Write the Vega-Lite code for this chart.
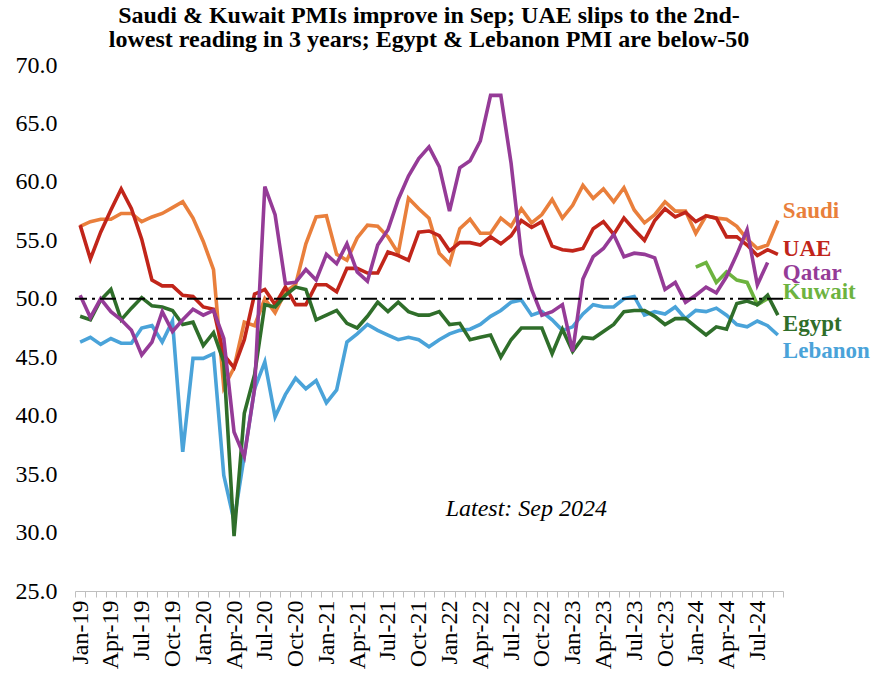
{
  "$schema": "https://vega.github.io/schema/vega-lite/v6.json",
  "width": 708,
  "height": 526,
  "autosize": {"type": "none"},
  "padding": {"left": 75, "top": 65, "right": 92, "bottom": 87},
  "background": "white",
  "title": {
    "text": ["Saudi & Kuwait PMIs improve in Sep; UAE slips to the 2nd-", "lowest reading in 3 years; Egypt & Lebanon PMI are below-50"],
    "font": "Liberation Serif",
    "fontSize": 24,
    "fontWeight": "bold",
    "color": "black",
    "anchor": "middle",
    "lineHeight": 24,
    "offset": 1
  },
  "config": {
    "view": {"stroke": null},
    "axis": {"labelFont": "Liberation Serif", "labelColor": "black", "grid": false}
  },
  "datasets": {
    "pmi": [
      {"m": "Jan-19", "Saudi": 56.2, "UAE": 56.3, "Qatar": 50.3, "Egypt": 48.5, "Lebanon": 46.3},
      {"m": "Feb-19", "Saudi": 56.6, "UAE": 53.4, "Qatar": 48.4, "Egypt": 48.2, "Lebanon": 46.7},
      {"m": "Mar-19", "Saudi": 56.8, "UAE": 55.7, "Qatar": 50.0, "Egypt": 49.9, "Lebanon": 46.1},
      {"m": "Apr-19", "Saudi": 56.8, "UAE": 57.6, "Qatar": 48.9, "Egypt": 50.8, "Lebanon": 46.6},
      {"m": "May-19", "Saudi": 57.3, "UAE": 59.4, "Qatar": 48.2, "Egypt": 48.2, "Lebanon": 46.2},
      {"m": "Jun-19", "Saudi": 57.3, "UAE": 57.7, "Qatar": 47.3, "Egypt": 49.2, "Lebanon": 46.2},
      {"m": "Jul-19", "Saudi": 56.6, "UAE": 55.1, "Qatar": 45.2, "Egypt": 50.1, "Lebanon": 47.5},
      {"m": "Aug-19", "Saudi": 57.0, "UAE": 51.6, "Qatar": 46.3, "Egypt": 49.4, "Lebanon": 47.7},
      {"m": "Sep-19", "Saudi": 57.3, "UAE": 51.1, "Qatar": 48.9, "Egypt": 49.3, "Lebanon": 46.3},
      {"m": "Oct-19", "Saudi": 57.8, "UAE": 51.1, "Qatar": 47.2, "Egypt": 49.0, "Lebanon": 48.1},
      {"m": "Nov-19", "Saudi": 58.3, "UAE": 50.3, "Qatar": 48.2, "Egypt": 47.8, "Lebanon": 36.9},
      {"m": "Dec-19", "Saudi": 56.9, "UAE": 50.2, "Qatar": 49.1, "Egypt": 48.0, "Lebanon": 44.9},
      {"m": "Jan-20", "Saudi": 54.9, "UAE": 49.3, "Qatar": 48.6, "Egypt": 46.0, "Lebanon": 44.9},
      {"m": "Feb-20", "Saudi": 52.5, "UAE": 49.1, "Qatar": 49.0, "Egypt": 47.1, "Lebanon": 45.3},
      {"m": "Mar-20", "Saudi": 42.4, "UAE": 45.2, "Qatar": 46.6, "Egypt": 44.6, "Lebanon": 34.9},
      {"m": "Apr-20", "Saudi": 44.1, "UAE": 44.1, "Qatar": 38.6, "Egypt": 29.7, "Lebanon": 31.0},
      {"m": "May-20", "Saudi": 48.0, "UAE": 46.5, "Qatar": 36.5, "Egypt": 40.2, "Lebanon": 36.6},
      {"m": "Jun-20", "Saudi": 47.7, "UAE": 50.4, "Qatar": 42.3, "Egypt": 43.5, "Lebanon": 42.3},
      {"m": "Jul-20", "Saudi": 50.0, "UAE": 50.8, "Qatar": 59.6, "Egypt": 49.5, "Lebanon": 44.6},
      {"m": "Aug-20", "Saudi": 48.8, "UAE": 49.5, "Qatar": 57.2, "Egypt": 49.3, "Lebanon": 39.9},
      {"m": "Sep-20", "Saudi": 50.6, "UAE": 51.0, "Qatar": 51.3, "Egypt": 50.3, "Lebanon": 41.8},
      {"m": "Oct-20", "Saudi": 51.2, "UAE": 49.5, "Qatar": 51.4, "Egypt": 51.0, "Lebanon": 43.2},
      {"m": "Nov-20", "Saudi": 54.7, "UAE": 49.5, "Qatar": 52.5, "Egypt": 50.8, "Lebanon": 42.3},
      {"m": "Dec-20", "Saudi": 57.0, "UAE": 51.2, "Qatar": 51.6, "Egypt": 48.2, "Lebanon": 43.0},
      {"m": "Jan-21", "Saudi": 57.1, "UAE": 51.2, "Qatar": 53.8, "Egypt": 48.6, "Lebanon": 41.1},
      {"m": "Feb-21", "Saudi": 53.8, "UAE": 50.6, "Qatar": 53.0, "Egypt": 49.0, "Lebanon": 42.2},
      {"m": "Mar-21", "Saudi": 53.3, "UAE": 52.6, "Qatar": 54.7, "Egypt": 47.9, "Lebanon": 46.3},
      {"m": "Apr-21", "Saudi": 55.2, "UAE": 52.6, "Qatar": 52.3, "Egypt": 47.5, "Lebanon": 47.0},
      {"m": "May-21", "Saudi": 56.3, "UAE": 52.2, "Qatar": 51.5, "Egypt": 48.5, "Lebanon": 47.8},
      {"m": "Jun-21", "Saudi": 56.2, "UAE": 52.2, "Qatar": 54.6, "Egypt": 49.7, "Lebanon": 47.3},
      {"m": "Jul-21", "Saudi": 55.3, "UAE": 54.0, "Qatar": 55.9, "Egypt": 48.9, "Lebanon": 46.9},
      {"m": "Aug-21", "Saudi": 53.9, "UAE": 53.7, "Qatar": 58.5, "Egypt": 49.7, "Lebanon": 46.5},
      {"m": "Sep-21", "Saudi": 58.6, "UAE": 53.3, "Qatar": 60.5, "Egypt": 48.9, "Lebanon": 46.7},
      {"m": "Oct-21", "Saudi": 57.7, "UAE": 55.7, "Qatar": 62.0, "Egypt": 48.6, "Lebanon": 46.5},
      {"m": "Nov-21", "Saudi": 56.9, "UAE": 55.8, "Qatar": 63.0, "Egypt": 48.6, "Lebanon": 45.9},
      {"m": "Dec-21", "Saudi": 53.9, "UAE": 55.4, "Qatar": 61.3, "Egypt": 48.9, "Lebanon": 46.5},
      {"m": "Jan-22", "Saudi": 53.0, "UAE": 54.1, "Qatar": 57.5, "Egypt": 47.8, "Lebanon": 47.0},
      {"m": "Feb-22", "Saudi": 56.0, "UAE": 54.8, "Qatar": 61.2, "Egypt": 47.9, "Lebanon": 47.3},
      {"m": "Mar-22", "Saudi": 56.8, "UAE": 54.8, "Qatar": 61.8, "Egypt": 46.5, "Lebanon": 47.4},
      {"m": "Apr-22", "Saudi": 55.6, "UAE": 54.6, "Qatar": 63.5, "Egypt": 46.7, "Lebanon": 47.8},
      {"m": "May-22", "Saudi": 55.6, "UAE": 55.3, "Qatar": 67.4, "Egypt": 46.9, "Lebanon": 48.5},
      {"m": "Jun-22", "Saudi": 56.9, "UAE": 54.7, "Qatar": 67.4, "Egypt": 45.0, "Lebanon": 49.0},
      {"m": "Jul-22", "Saudi": 56.2, "UAE": 55.4, "Qatar": 61.6, "Egypt": 46.5, "Lebanon": 49.7},
      {"m": "Aug-22", "Saudi": 57.7, "UAE": 56.7, "Qatar": 53.8, "Egypt": 47.5, "Lebanon": 49.9},
      {"m": "Sep-22", "Saudi": 56.5, "UAE": 56.1, "Qatar": 50.8, "Egypt": 47.5, "Lebanon": 48.6},
      {"m": "Oct-22", "Saudi": 57.2, "UAE": 56.6, "Qatar": 48.6, "Egypt": 47.5, "Lebanon": 48.9},
      {"m": "Nov-22", "Saudi": 58.5, "UAE": 54.5, "Qatar": 48.9, "Egypt": 45.3, "Lebanon": 48.2},
      {"m": "Dec-22", "Saudi": 56.9, "UAE": 54.2, "Qatar": 49.5, "Egypt": 47.4, "Lebanon": 47.3},
      {"m": "Jan-23", "Saudi": 58.0, "UAE": 54.1, "Qatar": 45.5, "Egypt": 45.5, "Lebanon": 47.6},
      {"m": "Feb-23", "Saudi": 59.7, "UAE": 54.3, "Qatar": 51.7, "Egypt": 46.7, "Lebanon": 48.7},
      {"m": "Mar-23", "Saudi": 58.6, "UAE": 56.0, "Qatar": 53.6, "Egypt": 46.6, "Lebanon": 49.5},
      {"m": "Apr-23", "Saudi": 59.4, "UAE": 56.6, "Qatar": 54.3, "Egypt": 47.2, "Lebanon": 49.3},
      {"m": "May-23", "Saudi": 58.3, "UAE": 55.5, "Qatar": 55.5, "Egypt": 47.8, "Lebanon": 49.3},
      {"m": "Jun-23", "Saudi": 59.5, "UAE": 56.9, "Qatar": 53.6, "Egypt": 48.9, "Lebanon": 50.0},
      {"m": "Jul-23", "Saudi": 57.6, "UAE": 55.9, "Qatar": 53.9, "Egypt": 49.0, "Lebanon": 50.2},
      {"m": "Aug-23", "Saudi": 56.5, "UAE": 55.0, "Qatar": 53.8, "Egypt": 49.0, "Lebanon": 48.6},
      {"m": "Sep-23", "Saudi": 57.2, "UAE": 56.7, "Qatar": 53.5, "Egypt": 48.5, "Lebanon": 48.9},
      {"m": "Oct-23", "Saudi": 58.3, "UAE": 57.7, "Qatar": 50.8, "Egypt": 47.8, "Lebanon": 48.7},
      {"m": "Nov-23", "Saudi": 57.5, "UAE": 57.0, "Qatar": 51.4, "Egypt": 48.3, "Lebanon": 49.3},
      {"m": "Dec-23", "Saudi": 57.5, "UAE": 57.4, "Qatar": 49.7, "Egypt": 48.3, "Lebanon": 48.3},
      {"m": "Jan-24", "Saudi": 55.6, "UAE": 56.6, "Qatar": 50.3, "Kuwait": 52.7, "Egypt": 47.6, "Lebanon": 49.0},
      {"m": "Feb-24", "Saudi": 57.1, "UAE": 57.1, "Qatar": 51.0, "Kuwait": 53.1, "Egypt": 46.9, "Lebanon": 48.9},
      {"m": "Mar-24", "Saudi": 56.9, "UAE": 56.9, "Qatar": 50.5, "Kuwait": 51.4, "Egypt": 47.6, "Lebanon": 49.2},
      {"m": "Apr-24", "Saudi": 56.8, "UAE": 55.3, "Qatar": 51.9, "Kuwait": 52.3, "Egypt": 47.4, "Lebanon": 48.6},
      {"m": "May-24", "Saudi": 56.2, "UAE": 55.3, "Qatar": 53.8, "Kuwait": 51.6, "Egypt": 49.6, "Lebanon": 47.8},
      {"m": "Jun-24", "Saudi": 55.1, "UAE": 54.6, "Qatar": 55.9, "Kuwait": 51.4, "Egypt": 49.8, "Lebanon": 47.6},
      {"m": "Jul-24", "Saudi": 54.3, "UAE": 53.7, "Qatar": 51.2, "Kuwait": 49.5, "Egypt": 49.5, "Lebanon": 48.1},
      {"m": "Aug-24", "Saudi": 54.6, "UAE": 54.2, "Qatar": 53.1, "Kuwait": 50.0, "Egypt": 50.3, "Lebanon": 47.7},
      {"m": "Sep-24", "Saudi": 56.7, "UAE": 53.8, "Egypt": 48.6, "Lebanon": 46.9}
    ],
    "seriesLabels": [
      {"series": "Saudi", "m": "Sep-24", "v": 57.5},
      {"series": "UAE", "m": "Sep-24", "v": 54.3},
      {"series": "Qatar", "m": "Sep-24", "v": 52.2},
      {"series": "Kuwait", "m": "Sep-24", "v": 50.6},
      {"series": "Egypt", "m": "Sep-24", "v": 47.8},
      {"series": "Lebanon", "m": "Sep-24", "v": 45.5}
    ],
    "noteText": [{"t": "Latest: Sep 2024", "m": "Aug-22", "v": 32.0}],
    "threshold": [{"level": 50}]
  },
  "layer": [
    {
      "data": {"name": "pmi"},
      "transform": [
        {"fold": ["Kuwait"], "as": ["series", "value"]},
        {"filter": "isValid(datum.value)"}
      ],
      "mark": {"type": "line", "strokeWidth": 3.6},
      "encoding": {
        "x": {
          "field": "m",
          "type": "ordinal",
          "scale": {
            "type": "band",
            "paddingInner": 0,
            "paddingOuter": 0,
            "domain": ["Jan-19","Feb-19","Mar-19","Apr-19","May-19","Jun-19","Jul-19","Aug-19","Sep-19","Oct-19","Nov-19","Dec-19",
                       "Jan-20","Feb-20","Mar-20","Apr-20","May-20","Jun-20","Jul-20","Aug-20","Sep-20","Oct-20","Nov-20","Dec-20",
                       "Jan-21","Feb-21","Mar-21","Apr-21","May-21","Jun-21","Jul-21","Aug-21","Sep-21","Oct-21","Nov-21","Dec-21",
                       "Jan-22","Feb-22","Mar-22","Apr-22","May-22","Jun-22","Jul-22","Aug-22","Sep-22","Oct-22","Nov-22","Dec-22",
                       "Jan-23","Feb-23","Mar-23","Apr-23","May-23","Jun-23","Jul-23","Aug-23","Sep-23","Oct-23","Nov-23","Dec-23",
                       "Jan-24","Feb-24","Mar-24","Apr-24","May-24","Jun-24","Jul-24","Aug-24","Sep-24"]
          },
          "axis": {
            "title": null,
            "labelAngle": -90,
            "labelFontSize": 24,
            "labelExpr": "indexof(['Jan','Apr','Jul','Oct'], slice('' + datum.label, 0, 3)) >= 0 ? datum.label : ''",
            "labelOverlap": false,
            "tickBand": "extent",
            "domainColor": "#BFBFBF",
            "tickColor": "#BFBFBF",
            "tickSize": 6,
            "labelPadding": 3
          }
        },
        "y": {
          "field": "value",
          "type": "quantitative",
          "scale": {"domain": [25, 70], "nice": false, "zero": false},
          "axis": {
            "title": null,
            "values": [25, 30, 35, 40, 45, 50, 55, 60, 65, 70],
            "format": ".1f",
            "domain": false,
            "ticks": false,
            "labelFontSize": 24,
            "labelPadding": 18
          }
        },
        "color": {
          "field": "series",
          "type": "nominal",
          "scale": {
            "domain": ["Saudi", "UAE", "Qatar", "Kuwait", "Egypt", "Lebanon"],
            "range": ["#E97F3C", "#C1251A", "#953B97", "#6DB33F", "#2F6E2A", "#4AA3D9"]
          },
          "legend": null
        }
      }
    },
    {
      "data": {"name": "pmi"},
      "transform": [
        {"fold": ["Saudi", "UAE", "Lebanon", "Egypt", "Qatar"], "as": ["series", "value"]},
        {"filter": "isValid(datum.value)"}
      ],
      "mark": {"type": "line", "strokeWidth": 3.6},
      "encoding": {
        "x": {"field": "m", "type": "ordinal"},
        "y": {"field": "value", "type": "quantitative"},
        "color": {"field": "series", "type": "nominal"}
      }
    },
    {
      "data": {"name": "threshold"},
      "mark": {"type": "rule", "strokeDash": [16, 5, 3, 5], "strokeWidth": 2, "color": "black"},
      "encoding": {
        "y": {"field": "level", "type": "quantitative"}
      }
    },
    {
      "data": {"name": "seriesLabels"},
      "mark": {"type": "text", "align": "left", "baseline": "middle", "dx": 5, "font": "Liberation Serif", "fontWeight": "bold", "fontSize": 23},
      "encoding": {
        "x": {"field": "m", "type": "ordinal"},
        "y": {"field": "v", "type": "quantitative"},
        "text": {"field": "series"},
        "color": {"field": "series", "type": "nominal"}
      }
    },
    {
      "data": {"name": "noteText"},
      "mark": {"type": "text", "align": "center", "baseline": "middle", "dx": 5, "font": "Liberation Serif", "fontStyle": "italic", "fontSize": 24, "color": "black"},
      "encoding": {
        "x": {"field": "m", "type": "ordinal"},
        "y": {"field": "v", "type": "quantitative"},
        "text": {"field": "t"}
      }
    }
  ]
}
